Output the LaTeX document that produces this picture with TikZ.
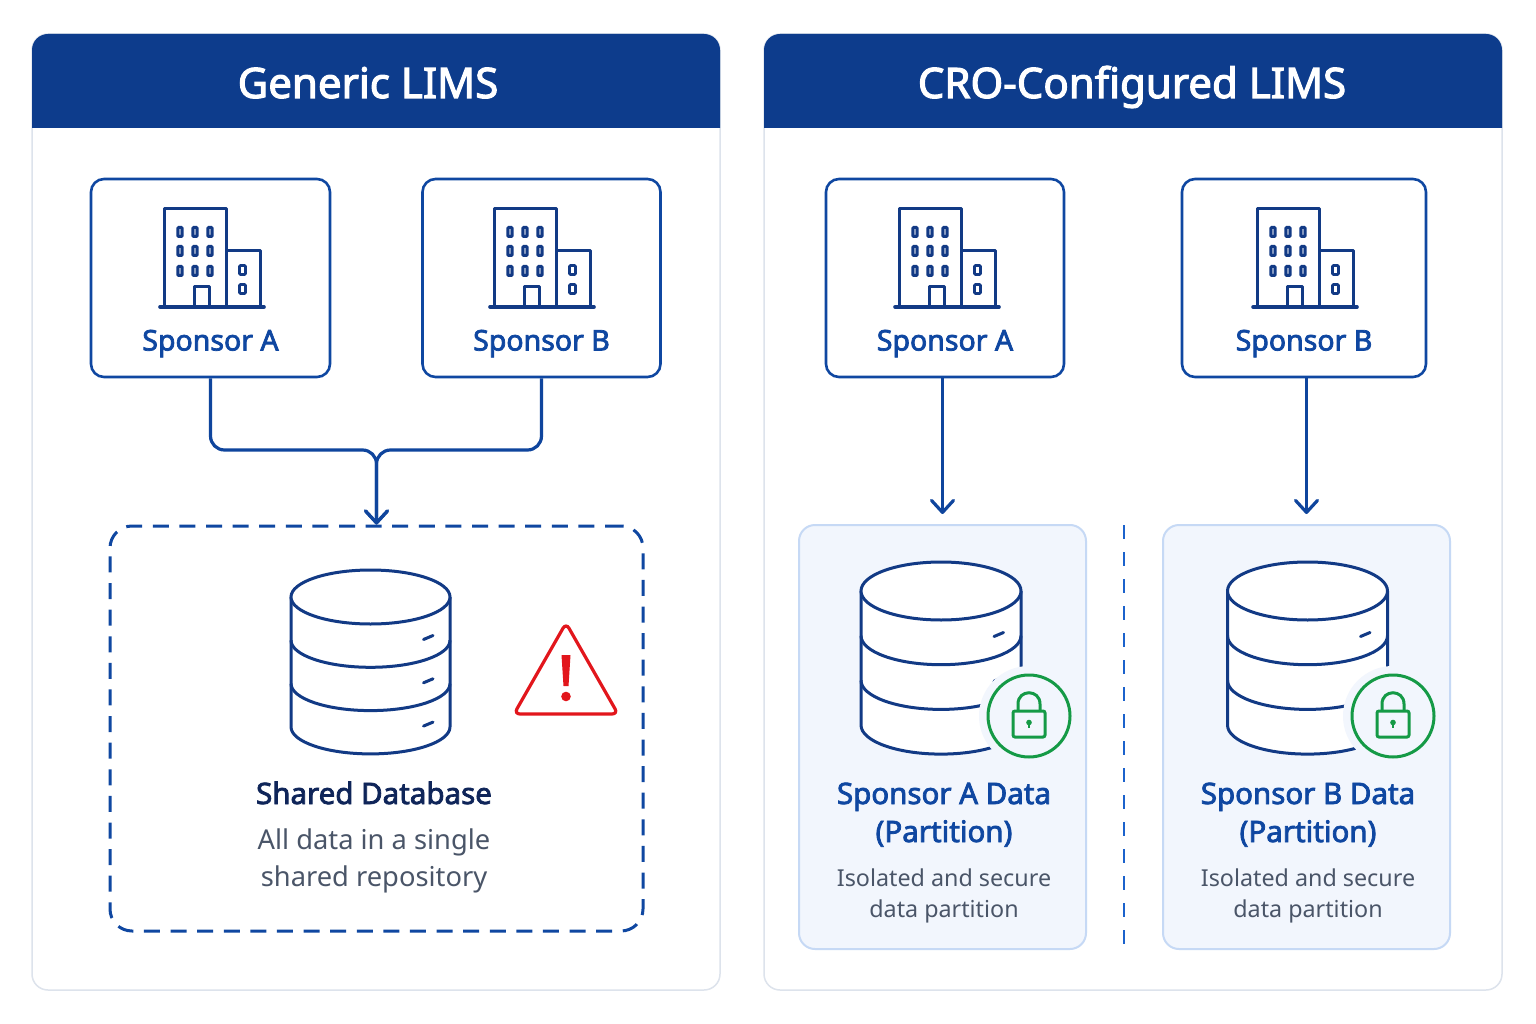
\documentclass[tikz,border=0pt]{standalone}
\usepackage{fontspec}
\setmainfont{Noto Sans}[BoldFont={Noto Sans},BoldFeatures={FakeBold=2.6}]
\usetikzlibrary{arrows.meta}

\definecolor{headblue}{HTML}{0D3C8C}
\definecolor{navy}{HTML}{123A85}
\definecolor{labelblue}{HTML}{0F47A1}
\definecolor{linkblue}{HTML}{1B62CC}
\definecolor{panelline}{HTML}{DDE3EC}
\definecolor{partfill}{HTML}{F2F6FD}
\definecolor{partline}{HTML}{C6D9F5}
\definecolor{darktext}{HTML}{0F2559}
\definecolor{greytext}{HTML}{4A5568}
\definecolor{warnred}{HTML}{E2161C}
\definecolor{lockgreen}{HTML}{159A46}

\tikzset{
	panel/.style={draw=panelline,line width=1.5pt,rounded corners=16pt,fill=white},
	card/.style={draw=labelblue,line width=2.6pt,rounded corners=13pt,fill=white,inner sep=0pt},
	part/.style={draw=partline,line width=2pt,rounded corners=16pt,fill=partfill,inner sep=0pt},
	sharedbox/.style={draw=labelblue,line width=3pt,dash pattern=on 16pt off 10.6pt,rounded corners=22pt,inner sep=0pt},
	flow/.style={draw=labelblue!85!navy,line width=3.2pt,-{Straight Barb[length=12pt,width=22pt,line width=3.2pt,round]}},
	icon/.style={draw=navy,line width=3pt},
	title/.style={text=white,font=\bfseries\fontsize{42}{46}\selectfont,inner sep=0pt,text height=30pt,text depth=0pt},
	sponsor/.style={text=labelblue,font=\bfseries\fontsize{28.5}{32}\selectfont,inner sep=0pt,text height=21pt,text depth=0pt},
	dbname/.style={font=\bfseries\fontsize{29.5}{32}\selectfont,inner sep=0pt,text height=21pt,text depth=0pt},
	dbnote/.style={text=greytext,inner sep=0pt,text height=20pt,text depth=0pt},
}

% building with its base centred on (#1,307)
\newcommand{\buildingicon}[1]{
	\begin{scope}[shift={(#1,307)}]
		\draw[icon,line join=round] (-48,0) -- (-48,-98) -- (14,-98) -- (14,0);
		\draw[icon,line join=round] (14,-56) -- (48,-56) -- (48,0);
		\draw[icon,line join=round] (-18,0) -- (-18,-20) -- (-3,-20) -- (-3,0);
		\draw[icon,line width=3.6pt,line cap=round] (-52,0) -- (52,0);
		\foreach \wx in {-32,-17,-2}
			\foreach \wy in {-75,-56,-36}
				\draw[icon,line width=3pt,fill=navy!25,rounded corners=1pt] (\wx-2.2,\wy-4.5) rectangle (\wx+2.2,\wy+4.5);
		\foreach \wy in {-37,-18}
			\draw[icon,line width=2.8pt,rounded corners=1pt] (27.5,\wy-4.5) rectangle (33.5,\wy+4.5);
	\end{scope}
}

% disc stack: centre x, top y, radii, step
\newcommand{\dbicon}[5]{
	\draw[icon,fill=white,line join=round] (#1-#3,#2) -- (#1-#3,#2+3*#5)
		arc [start angle=180,end angle=360,x radius=#3pt,y radius=#4pt] -- (#1+#3,#2);
	\draw[icon,fill=white] (#1,#2) ellipse [x radius=#3pt,y radius=#4pt];
	\foreach \k in {1,2}
		\draw[icon] (#1-#3,#2+\k*#5) arc [start angle=180,end angle=360,x radius=#3pt,y radius=#4pt];
	\foreach \k in {0,1,2}
		\draw[icon,line cap=round] (#1+53,#2+\k*#5+1.5*#4+2) -- (#1+62.5,#2+\k*#5+1.5*#4-2);
}

% green lock badge centred on (#1,716)
\newcommand{\lockicon}[1]{
	\fill[partfill] (#1,716) circle (50);
	\begin{scope}[shift={(#1,716)},draw=lockgreen,line width=3pt]
		\draw (0,0) circle (41);
		\draw[rounded corners=2pt] (-16,-5) rectangle (16,21);
		\draw (-11,-5) -- (-11,-12) .. controls (-11,-27) and (11,-27) .. (11,-12) -- (11,-5);
		\fill[lockgreen] (0,6.5) circle (2.8);
		\draw[line width=2pt] (0,7) -- (0,12);
	\end{scope}
}

\begin{document}
\begin{tikzpicture}[x=1pt,y=-1pt]
	\useasboundingbox (0,0) rectangle (1536,1024);
	\fill[white] (0,0) rectangle (1536,1024);

	% Panels and their headers
	\foreach \px/\pw/\pname in {32/688/left,764/738/right}{
		\node (panel \pname) at (\px+\pw/2,512) [panel,minimum width=\pw,minimum height=956] {};
		\begin{scope}
			\clip (\px-2,20) rectangle (\px+\pw+2,127.5);
			\fill[headblue,rounded corners=16pt] (\px,34) rectangle (\px+\pw,160);
		\end{scope}
	}
	\node (title left) at (368,83) [title] {Generic LIMS};
	\node (title right) at (1132,83) [title] {CRO-Configured LIMS};

	% Sponsor cards
	\foreach \n/\cx/\cw/\bx/\ltext in {a/210.5/239/212/Sponsor A,b/541.5/238/542/Sponsor B,c/945/238/947/Sponsor A,d/1304/244/1305/Sponsor B}{
		\node (card \n) at (\cx,278) [card,minimum width=\cw,minimum height=198] {};
		\buildingicon{\bx}
		\node (label \n) at (\cx,340) [sponsor] {\ltext};
	}

	% Shared database
	\node (shared) at (376.5,728.5) [sharedbox,minimum width=533,minimum height=405] {};
	\dbicon{370.5}{597}{79.5}{27}{43.3}
	\node (shared name) at (374,793.5) [dbname,text=darktext] {Shared Database};
	\node (shared note a) at (374,839) [dbnote,font=\fontsize{27.3}{30}\selectfont] {All data in a single};
	\node (shared note b) at (374,876) [dbnote,font=\fontsize{27.3}{30}\selectfont] {shared repository};

	% Warning sign
	\draw[draw=warnred,line width=3.2pt,rounded corners=6pt] (566,623) -- (618,714) -- (514,714) -- cycle;
	\fill[warnred] (561.5,655) -- (570.5,655) -- (568.5,686) -- (563.5,686) -- cycle;
	\fill[warnred] (566,696.5) circle (4.8);

	% Connectors of the shared side
	\coordinate (merge) at (shared.north |- 0,450);
	\draw[flow,rounded corners=14pt] (card a.south) -- (card a.south |- merge) -- (merge) -- (shared.north);
	\draw[flow,rounded corners=14pt] (card b.south) -- (card b.south |- merge) -- (merge) -- (shared.north);

	% Partitions
	\foreach \n/\pcx/\dbx/\lx/\ptext in {c/942.5/941/1029/Sponsor A Data,d/1306.5/1307.5/1393/Sponsor B Data}{
		\node (part \n) at (\pcx,737) [part,minimum width=287,minimum height=424] {};
		\dbicon{\dbx}{591}{80}{29}{44.7}
		\lockicon{\lx}
		\node (part name \n) at (\pcx+1.5,793.5) [dbname,text=labelblue] {\ptext};
		\node (part tag \n) at (\pcx+1.5,831.5) [dbname,text=labelblue] {(Partition)};
		\node (part note a \n) at (\pcx+1.5,876.5) [dbnote,font=\fontsize{23.3}{26}\selectfont] {Isolated and secure};
		\node (part note b \n) at (\pcx+1.5,907.5) [dbnote,font=\fontsize{23.3}{26}\selectfont] {data partition};
		\draw[flow,shorten >=10pt] (part \n.north |- card \n.south) -- (part \n.north);
	}

	% Divider between partitions
	\coordinate (divider top) at (1124,525);
	\coordinate (divider end) at (1124,949);
	\draw[draw=linkblue,line width=2.6pt,dash pattern=on 14pt off 13pt] (divider top) -- (divider end);
\end{tikzpicture}
\end{document}
